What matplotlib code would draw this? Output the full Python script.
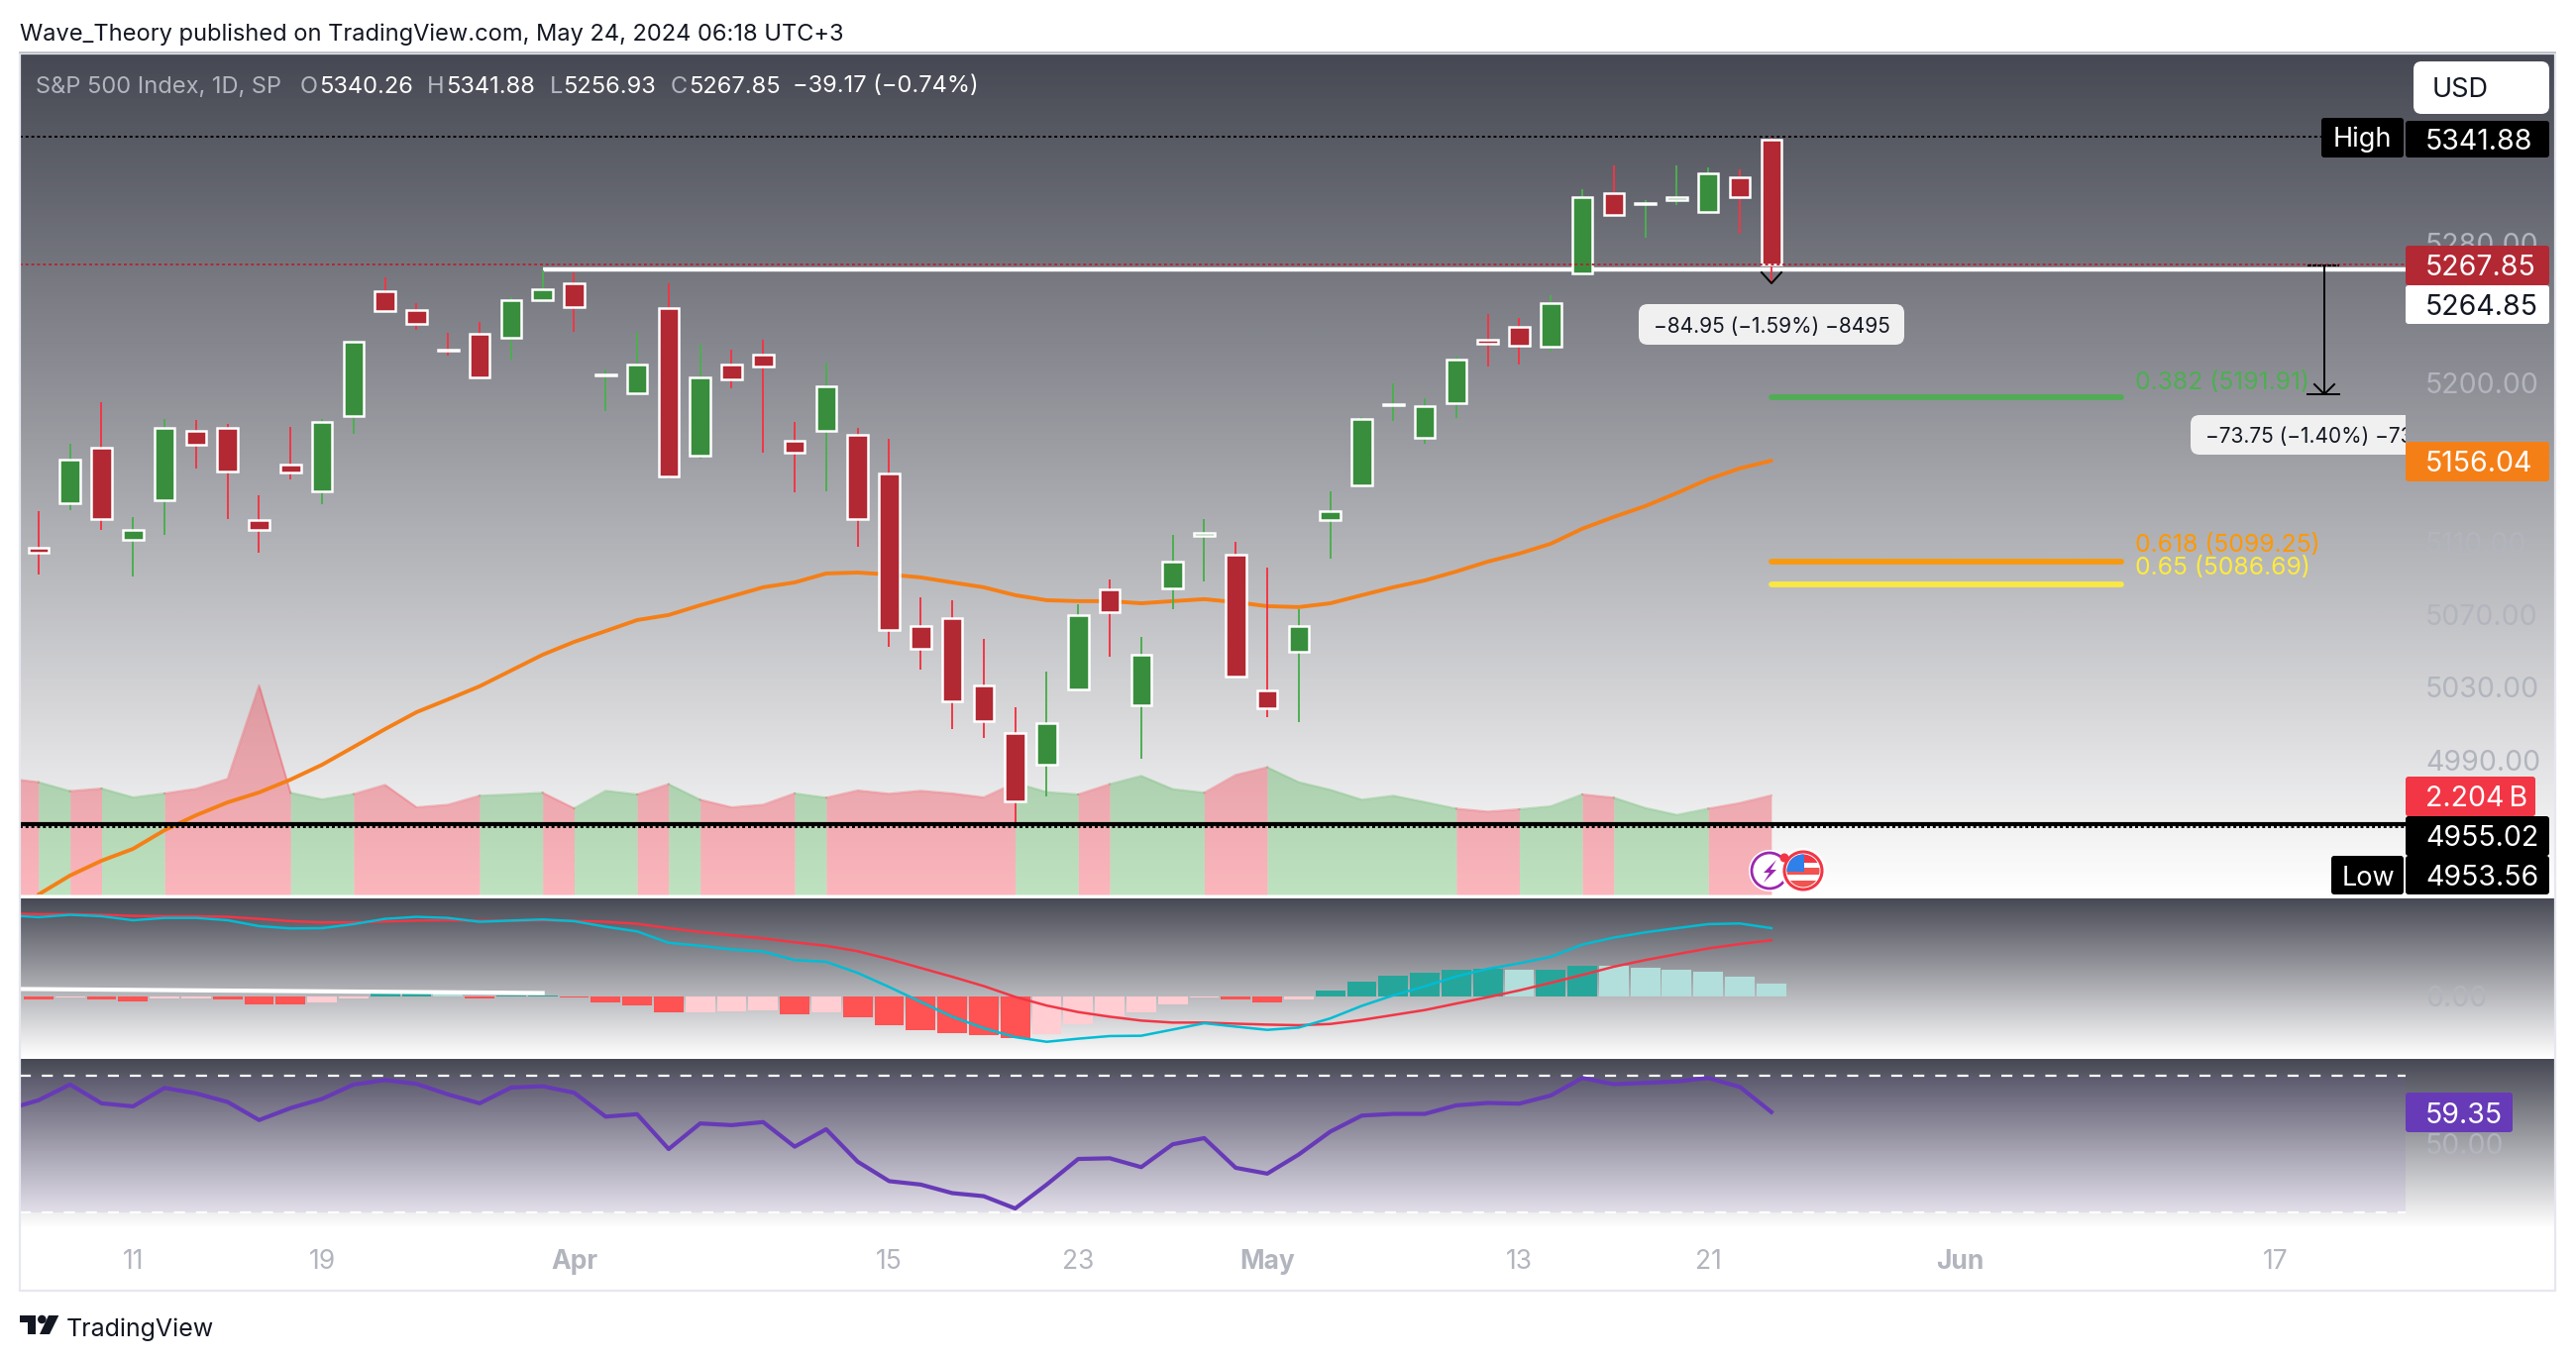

# S&P 500 daily chart, TradingView style
import numpy as np
import matplotlib
matplotlib.use('Agg')
import matplotlib.pyplot as plt
from matplotlib.colors import LinearSegmentedColormap
from matplotlib.patches import Rectangle, FancyBboxPatch, Polygon, Circle

plt.rcParams['font.family'] = ['Inter', 'DejaVu Sans']

####################################################################################################
# Data
opens = [5107.1, 5132.1, 5163.4, 5111.7, 5133.8, 5173.0, 5174.7, 5122.7, 5153.9, 5138.9,
         5181.4, 5252.8, 5242.0, 5218.9, 5228.3, 5226.1, 5247.6, 5257.3, 5204.2, 5194.4,
         5243.1, 5159.0, 5210.7, 5216.4, 5167.4, 5173.0, 5170.8, 5149.0, 5063.6, 5068.0,
         5030.7, 5004.6, 4987.3, 5028.6, 5083.9, 5019.8, 5084.5, 5113.8, 5103.3, 5028.0,
         5049.3, 5122.7, 5142.2, 5187.3, 5169.1, 5188.7, 5224.9, 5232.3, 5220.9, 5263.0,
         5309.4, 5302.8, 5305.4, 5298.5, 5318.7, 5340.26]
highs = [5127.7, 5165.7, 5189.3, 5124.4, 5179.7, 5179.1, 5177.0, 5136.6, 5175.3, 5179.7,
         5224.9, 5260.7, 5245.9, 5228.9, 5235.1, 5249.3, 5264.7, 5263.6, 5207.9, 5228.9,
         5256.9, 5222.6, 5219.2, 5224.9, 5178.0, 5211.8, 5174.7, 5168.5, 5079.5, 5077.9,
         5056.4, 5018.8, 5038.4, 5075.7, 5089.5, 5057.6, 5114.4, 5123.3, 5110.5, 5096.2,
         5073.0, 5138.9, 5180.8, 5200.0, 5191.5, 5215.2, 5239.6, 5237.3, 5250.4, 5311.8,
         5325.6, 5305.4, 5325.1, 5324.5, 5323.3, 5341.88]
lows = [5092.2, 5128.3, 5117.2, 5091.2, 5114.4, 5151.7, 5123.3, 5104.4, 5145.6, 5131.7,
        5171.3, 5241.4, 5230.6, 5215.8, 5203.4, 5213.5, 5246.5, 5229.4, 5184.2, 5194.4,
        5146.1, 5157.3, 5197.2, 5160.6, 5138.3, 5138.9, 5107.7, 5052.1, 5039.5, 5006.8,
        5001.9, 4953.56, 4970.0, 5028.6, 5046.6, 4990.6, 5073.0, 5088.4, 5035.7, 5013.4,
        5010.6, 5101.1, 5142.2, 5178.6, 5165.7, 5180.3, 5209.6, 5210.7, 5218.0, 5263.0,
        5296.8, 5283.6, 5302.6, 5298.5, 5285.9, 5256.93]
closes = [5104.4, 5156.8, 5123.3, 5117.2, 5174.7, 5165.1, 5150.0, 5117.2, 5149.4, 5178.0,
          5223.8, 5241.4, 5234.0, 5218.3, 5203.4, 5247.6, 5253.9, 5243.6, 5204.8, 5210.7,
          5147.3, 5203.4, 5202.3, 5209.6, 5160.6, 5198.3, 5123.3, 5061.4, 5051.0, 5022.1,
          5011.2, 4967.3, 5010.1, 5069.7, 5071.3, 5047.7, 5099.4, 5115.5, 5035.7, 5018.2,
          5063.6, 5127.7, 5179.7, 5187.9, 5187.0, 5213.5, 5222.6, 5221.4, 5245.9, 5307.2,
          5296.8, 5303.4, 5307.2, 5321.0, 5307.2, 5267.85]

ma_line = [4917.0, 4927.2, 4935.2, 4941.6, 4951.7, 4959.8, 4966.8, 4972.2, 4979.2, 4987.3,
           4997.0, 5006.8, 5016.1, 5023.1, 5030.3, 5039.0, 5047.7, 5054.8, 5060.8, 5066.9,
           5069.7, 5075.1, 5080.1, 5085.1, 5087.8, 5092.8, 5093.3, 5092.2, 5090.6, 5087.8,
           5085.1, 5080.7, 5077.9, 5077.4, 5077.4, 5076.2, 5077.4, 5078.5, 5076.8, 5074.6,
           5074.1, 5076.2, 5080.7, 5085.1, 5088.9, 5093.9, 5099.4, 5103.9, 5109.4, 5117.8,
           5124.4, 5130.5, 5137.8, 5145.6, 5151.7, 5156.04]

# volume in billions, first value is the day before the chart's left edge
volume = [2.586, 2.498, 2.300, 2.358, 2.160, 2.248, 2.351, 2.571, 4.651, 2.263,
          2.116, 2.233, 2.439, 1.940, 1.998, 2.197, 2.226, 2.263, 1.918, 2.307,
          2.226, 2.454, 2.109, 1.940, 1.998, 2.248, 2.153, 2.314, 2.241, 2.307,
          2.248, 2.160, 2.483, 2.278, 2.226, 2.454, 2.638, 2.344, 2.263, 2.660,
          2.829, 2.498, 2.329, 2.109, 2.197, 2.057, 1.910, 1.844, 1.896, 1.962,
          2.226, 2.153, 1.925, 1.771, 1.910, 2.035, 2.204]

macd_hist = [-2.3, -0.6, -1.9, -3.2, -1.3, -1.3, -1.9, -5.1, -5.1, -3.8,
             -1.3, 1.9, 2.6, 1.9, -1.3, 0.6, 0.6, -0.6, -3.8, -5.7,
             -10.2, -10.2, -9.6, -8.9, -11.5, -10.2, -13.4, -18.5, -21.7, -23.6,
             -24.9, -26.8, -24.3, -17.9, -12.8, -10.2, -5.1, -0.6, -1.9, -3.8,
             -1.9, 3.8, 9.6, 13.4, 15.3, 17.2, 17.9, 17.2, 17.2, 19.8,
             19.8, 18.5, 17.2, 16.0, 12.8, 8.3]
hist_state = ['dn', 'up', 'dn', 'dn', 'up', 'up', 'dn', 'dn', 'dn', 'up',
              'up', 'UP', 'UP', 'DN', 'dn', 'UP', 'UP', 'dn', 'dn', 'dn',
              'dn', 'up', 'up', 'up', 'dn', 'up', 'dn', 'dn', 'dn', 'dn',
              'dn', 'dn', 'up', 'up', 'up', 'up', 'up', 'up', 'dn', 'dn',
              'up', 'UP', 'UP', 'UP', 'UP', 'UP', 'UP', 'DN', 'UP', 'UP',
              'DN', 'DN', 'DN', 'DN', 'DN', 'DN']
# these start one day before the left edge too
macd_line = [52.3, 51.1, 52.6, 51.7, 49.1, 50.6, 50.6, 49.1, 45.3, 43.8, 44.0,
             46.6, 50.0, 51.3, 50.6, 48.1, 48.9, 49.6, 48.5, 44.9, 41.9,
             34.5, 32.6, 30.2, 28.9, 23.4, 22.3, 15.1, 6.0, -3.6, -13.2,
             -20.6, -26.4, -29.4, -27.4, -25.7, -25.5, -21.5, -17.4, -19.6, -21.7,
             -20.2, -14.3, -6.2, 0.6, 6.4, 12.8, 17.7, 21.3, 25.5, 33.4,
             37.9, 41.3, 44.0, 46.6, 47.0, 44.0]
signal_line = [53.4, 53.0, 53.0, 52.6, 51.9, 51.7, 51.7, 51.3, 50.0, 48.5, 47.7,
               47.7, 48.3, 48.9, 49.1, 48.7, 48.7, 49.1, 48.7, 48.1, 46.8,
               44.0, 41.5, 39.4, 37.4, 34.9, 32.6, 29.1, 24.0, 18.3, 12.6,
               6.6, -0.4, -6.0, -10.2, -13.2, -15.7, -17.0, -17.0, -17.7, -18.3,
               -18.7, -17.9, -15.3, -12.1, -8.9, -4.7, -0.6, 3.8, 8.7, 13.8,
               19.1, 23.4, 27.2, 30.9, 33.8, 36.2]
rsi_line = [60.1, 62.8, 67.4, 61.9, 61.0, 66.4, 64.8, 62.3, 57.0, 60.5, 63.2,
            67.4, 68.7, 67.6, 64.5, 61.9, 66.5, 66.9, 65.0, 58.0, 58.7,
            48.5, 56.0, 55.5, 56.4, 49.2, 54.3, 44.8, 39.1, 38.1, 35.6,
            34.7, 31.1, 38.1, 45.6, 45.8, 43.2, 49.9, 51.7, 43.0, 41.3,
            46.9, 53.6, 58.3, 58.8, 58.8, 61.3, 62.0, 61.8, 64.2, 69.3,
            67.5, 67.9, 68.3, 69.3, 66.7, 59.35]

price_ticks = [5280, 5200, 5110, 5070, 5030, 4990]
date_ticks = [3, 9, 17, 27, 33, 39, 47, 53, 61, 71]
date_labels = ['11', '19', 'Apr', '15', '23', 'May', '13', '21', 'Jun', '17']

fib_prices = [5191.91, 5099.25, 5086.69]
fib_names = ['0.382', '0.618', '0.65']

high_price = 5341.88
low_price = 4953.56
close_price = 5267.85
level_white = 5264.85
level_black = 4955.02
ma_last = 5156.04
rsi_last = 59.35

####################################################################################################
# Layout helpers, all in image pixels
W, H = 2600, 1374
X_LEFT, X_RIGHT = -0.594, 79.88     # day numbers at the panel's edges
X_SCALE = 75.13                     # day number where the price scale starts
TEXT_GREY = '#b2b5be'
DASH = (0, (1.5, 1.5))
VC = 'center_baseline'
SCALE_FONT = 20.5

fig = plt.figure(figsize=(W / 100, H / 100), dpi=100, facecolor='white')


def px_axes(left, top, right, bottom):
    a = fig.add_axes([left / W, 1 - bottom / H, (right - left) / W, (bottom - top) / H])
    a.patch.set_visible(False)
    a.set_xlim(X_LEFT, X_RIGHT)
    a.set_xticks([])
    a.set_yticks([])
    for s in a.spines.values():
        s.set_visible(False)
    return a


def gradient(left, top, right, bottom):
    a = px_axes(left, top, right, bottom)
    cmap = LinearSegmentedColormap.from_list('panel', ['#464853', '#ffffff'])
    a.imshow(np.linspace(0, 1, 400)[:, None], cmap=cmap, aspect='auto', extent=(0, 1, 0, 1),
             transform=a.transAxes, vmin=0, vmax=1)
    a.set_xlim(0, 1)
    a.set_ylim(0, 1)


days = np.arange(len(closes))
days_ext = np.arange(-1, len(closes))
up = [c >= o for o, c in zip(opens, closes)]

####################################################################################################
# Main panel
gradient(20, 54, 2579, 903)

# volume below the candles
vol_ax = px_axes(20, 54, 2579, 903)
vol_ax.set_ylim(0, 18.71)
start = 0
for i in range(1, len(days) + 1):
    if i == len(days) or up[i] != up[start]:
        c = '#4caf50' if up[start] else '#f23645'
        xs = days_ext[start:i + 1]
        ys = volume[start:i + 1]
        vol_ax.fill_between(xs, 0, ys, color=c, alpha=0.36, linewidth=0)
        vol_ax.plot(xs, ys, color=c, alpha=0.3, lw=1.5)
        start = i

ax = px_axes(20, 54, 2579, 903)
ax.set_yscale('log')
ax.set_ylim(4917, 5391)
ax.minorticks_off()
ax.set_yticks([])
ax.set_xticks([])

for t in price_ticks:
    ax.text(75.76, t, f'{t:.2f}', color=TEXT_GREY, fontsize=SCALE_FONT, va=VC, ha='left')

ax.plot(days, ma_line, color='#f57f17', lw=2.8, zorder=3, solid_capstyle='round')

wick_colors = ['#4caf50' if u else '#f23645' for u in up]
body_colors = ['#388e3c' if u else '#b22833' for u in up]
ax.vlines(days, lows, highs, colors=wick_colors, lw=1.4, zorder=4)
ax.bar(days, np.abs(np.array(closes) - np.array(opens)), bottom=np.minimum(opens, closes),
       width=0.645, color=body_colors, edgecolor='white', linewidth=1.8, zorder=5)

# horizontal levels
ax.hlines(high_price, X_LEFT, 72.5, colors='black', lw=1.4, linestyles=[DASH], zorder=6)
ax.hlines(close_price, X_LEFT, X_SCALE, colors='#b22833', lw=1.4, linestyles=[DASH], zorder=7)
ax.hlines(level_white, 16, X_SCALE, colors='white', lw=3.2, zorder=2)
ax.hlines(level_black, X_LEFT, X_SCALE, colors='black', lw=3, zorder=6)
ax.hlines(low_price, X_LEFT, X_SCALE, colors='black', lw=1.4, linestyles=[DASH], zorder=6)

# fib levels
fib_colors = ['#4caf50', '#ff9800', '#ffeb3b']
for p, n, c in zip(fib_prices, fib_names, fib_colors):
    ax.hlines(p, 55, 66.1, colors=c, lw=4.2, zorder=3, capstyle='round', alpha=0.92)
ax.text(66.55, fib_prices[0] + 9.5, f'{fib_names[0]} ({fib_prices[0]})', color=fib_colors[0],
        fontsize=17.8, va=VC)
ax.text(66.55, fib_prices[1] + 10.5, f'{fib_names[1]} ({fib_prices[1]})', color=fib_colors[1],
        fontsize=17.8, va=VC)
ax.text(66.55, fib_prices[2] + 10.5, f'{fib_names[2]} ({fib_prices[2]})', color=fib_colors[2],
        fontsize=17.8, va=VC)

####################################################################################################
# MACD panel
gradient(20, 907, 2579, 1068)
macd_ax = px_axes(20, 907, 2579, 1068)
macd_ax.set_ylim(-39.8, 63.2)
state_colors = {'dn': '#ff5252', 'up': '#ffcdd2', 'UP': '#26a69a', 'DN': '#b2dfdb'}
macd_ax.bar(days, macd_hist, width=0.94, color=[state_colors[s] for s in hist_state], linewidth=0)
macd_ax.plot([X_LEFT, 16], [4.7, 2.1], color='white', lw=3)
macd_ax.plot(days_ext, signal_line, color='#f23645', lw=1.8)
macd_ax.plot(days_ext, macd_line, color='#00bcd4', lw=1.8)
macd_ax.text(75.76, 0, '0.00', color=TEXT_GREY, fontsize=SCALE_FONT, va=VC, ha='left')

####################################################################################################
# RSI panel
gradient(20, 1069, 2579, 1240)
rsi_ax = px_axes(20, 1069, 2579, 1240)
rsi_ax.set_ylim(25.3, 74.9)
rsi_ax.add_patch(Rectangle((X_LEFT, 30), X_SCALE - X_LEFT, 40, color='#7e57c2', alpha=0.1, lw=0))
rsi_ax.hlines([70, 30], X_LEFT, X_SCALE, colors='white', lw=1.6, linestyles=[(0, (5, 5))])
rsi_ax.plot(days_ext, rsi_line, color='#673ab7', lw=3)
rsi_ax.text(75.76, 50, '50.00', color=TEXT_GREY, fontsize=SCALE_FONT, va=VC, ha='left')

####################################################################################################
# Date axis
date_ax = px_axes(20, 1240, 2579, 1258)
date_ax.set_xticks(date_ticks)
date_ax.set_xticklabels(date_labels)
date_ax.tick_params(axis='x', length=0, pad=2, colors=TEXT_GREY, labelsize=19)
for lab in date_ax.get_xticklabels():
    if lab.get_text() in ('Apr', 'May', 'Jun'):
        lab.set_fontweight('bold')

####################################################################################################
# Overlay for tags, captions and icons, in pixels
top = fig.add_axes([0, 0, 1, 1])
top.set_xlim(0, W)
top.set_ylim(H, 0)
top.axis('off')
top.patch.set_visible(False)

top.add_patch(Rectangle((20, 54), 2559, 1249, fill=False, ec='#e6e8ef', lw=1.6))
top.plot([20, 2579], [53, 53], color='#b7bac2', lw=1.2)


def box(x0, y0, x1, y1, color, r=3, z=10, **kw):
    p = FancyBboxPatch((x0, y0), x1 - x0, y1 - y0, boxstyle=f'round,pad=0,rounding_size={r}',
                       fc=color, ec='none', zorder=z, **kw)
    top.add_patch(p)
    return p


def tag(text, y0, y1, color, tcolor='white', x1=2573):
    box(2428, y0, x1, y1, color)
    top.text(2448, (y0 + y1) / 2, text, color=tcolor, fontsize=SCALE_FONT, va=VC, ha='left', zorder=11)


# header text
top.text(20, 32, 'Wave_Theory published on TradingView.com, May 24, 2024 06:18 UTC+3',
         color='#131722', fontsize=17, va=VC)
hdr = [(36, 'S&P 500 Index, 1D, SP', '#b2b5be'), (303, 'O', '#b2b5be'),
       (322, f'{opens[-1]:.2f}', 'white'), (431, 'H', '#b2b5be'), (450, f'{high_price:.2f}', 'white'),
       (555, 'L', '#b2b5be'), (568, '5256.93', 'white'), (677, 'C', '#b2b5be'),
       (695, f'{close_price:.2f}', 'white'), (800, '\u221239.17 (\u22120.74%)', 'white')]
for x, s, c in hdr:
    top.text(x, 85, s, color=c, fontsize=17, va=VC)

# USD button
box(2436, 62, 2573, 115, 'white', r=8)
top.text(2455, 88, 'USD', color='#131722', fontsize=19.5, va=VC, zorder=11)

# price tags
box(2343, 119, 2426, 159, 'black')
top.text(2384, 138, 'High', color='white', fontsize=19.5, va=VC, ha='center', zorder=11)
tag(f'{high_price:.2f}', 122, 159, 'black')
tag(f'{close_price:.2f}', 248, 288, '#b22833')
tag(f'{level_white:.2f}', 288, 327, 'white', '#131722')
tag(f'{ma_last:.2f}', 446, 486, '#f57f17')
tag('2.204\u2009B', 784, 824, '#f23645', x1=2559)
tag(f'{level_black:.2f}', 824, 864, 'black')
box(2353, 864, 2426, 903, 'black')
top.text(2390, 884, 'Low', color='white', fontsize=19.5, va=VC, ha='center', zorder=11)
tag(f'{low_price:.2f}', 864, 903, 'black')
tag(f'{rsi_last:.2f}', 1103, 1143, '#673ab7', x1=2536)

# first range tool
top.plot([1778, 1788, 1798], [275, 286, 275], color='black', lw=1.4, zorder=8)
box(1654, 307, 1922, 348, '#f0f0f0', r=9, z=8)
top.text(1788, 328, '\u221284.95 (\u22121.59%) \u22128495', color='#131722', fontsize=15,
         va=VC, ha='center', zorder=9)

# second range tool
top.plot([2346, 2346], [268, 398], color='black', lw=1.4, zorder=8)
top.plot([2329, 2361], [268, 268], color='black', lw=1.4, ls=(0, (2, 0.6)), zorder=8)
top.plot([2329, 2361], [398, 398], color='black', lw=1.4, zorder=8)
top.plot([2336, 2346, 2356], [388, 398, 388], color='black', lw=1.4, zorder=8)
clip = Rectangle((20, 54), 2408, 849, transform=top.transData)
b2 = box(2211, 419, 2450, 459, '#f0f0f0', r=9, z=8)
b2.set_clip_path(clip)
t2 = top.text(2226, 439, '\u221273.75 (\u22121.40%) \u22127375', color='#131722', fontsize=15,
              va=VC, ha='left', zorder=9)
t2.set_clip_on(True)
t2.set_clip_path(clip)

# event icons
top.add_patch(Circle((1786, 879), 21, fc='white', ec='none', zorder=12))
top.add_patch(Circle((1786, 879), 18, fc='white', ec='#9c27b0', lw=2, zorder=12))
top.add_patch(Polygon([(1793, 868), (1780, 881), (1786, 881), (1780, 891), (1793, 878), (1787, 878)],
                      fc='#9c27b0', ec='none', zorder=13))
top.add_patch(Circle((1820, 879), 23, fc='white', ec='none', zorder=14))
flag = Circle((1820, 879), 16.5, transform=top.transData)
for y0, h, c in [(862, 9, '#f23645'), (871, 6, '#ffffff'), (876, 7, '#f05350'), (883, 6, '#ffffff'),
                 (889, 8, '#f05350')]:
    r = Rectangle((1803, y0), 34, h, fc=c, ec='none', zorder=15)
    top.add_patch(r)
    r.set_clip_path(flag)
r = Rectangle((1803, 862), 18, 18, fc='#2f80e8', ec='none', zorder=16)
top.add_patch(r)
r.set_clip_path(flag)
top.add_patch(Circle((1820, 879), 19, fc='none', ec='#f23645', lw=2.2, zorder=17))
top.add_patch(Circle((1801, 866), 4.5, fc='#f23645', ec='none', zorder=18))

# logo
logo = '#131722'
top.add_patch(Polygon([(20, 1328), (36, 1328), (36, 1347), (28, 1347), (28, 1335), (20, 1335)], fc=logo, ec='none'))
top.add_patch(Circle((42.3, 1332), 4.3, fc=logo, ec='none'))
top.add_patch(Polygon([(49, 1328), (59.3, 1328), (50, 1347), (40, 1347)], fc=logo, ec='none'))
top.text(67, 1340, 'TradingView', color=logo, fontsize=18, va=VC, ha='left')

fig.savefig('out.png', dpi=100, facecolor='white')
